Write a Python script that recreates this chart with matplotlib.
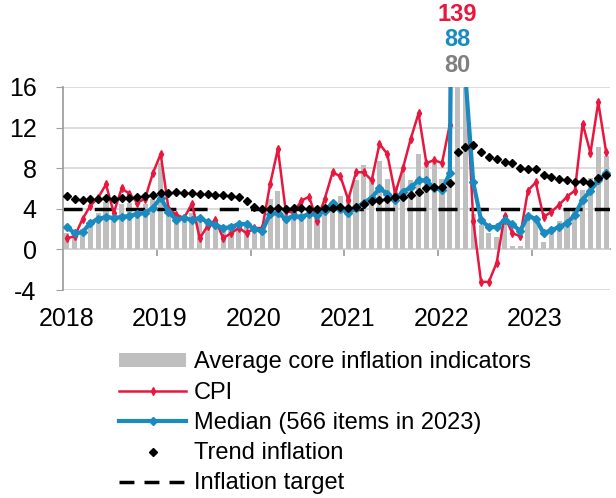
import numpy as np
import matplotlib
matplotlib.use("Agg")
import matplotlib.pyplot as plt
import matplotlib.transforms as mtransforms
from matplotlib.patches import Patch
from matplotlib.lines import Line2D

plt.rcParams['font.family'] = ['Liberation Sans', 'DejaVu Sans']
plt.rcParams['axes.unicode_minus'] = False

# monthly data, Jan 2018 .. Oct 2023 (annualised, %)
years = ['2018', '2019', '2020', '2021', '2022', '2023']

core = [1.6, 1.6, 2.0, 2.9, 3.6, 4.7, 3.3, 4.5, 4.6, 4.0, 4.5, 5.0,
        8.5, 4.2, 3.5, 3.2, 3.6, 3.0, 2.8, 2.6, 2.3, 2.5, 2.4, 2.4,
        2.0, 1.9, 5.0, 5.8, 3.8, 3.7, 3.5, 3.7, 3.3, 3.8, 4.2, 5.3,
        5.3, 6.8, 8.3, 6.9, 8.7, 6.9, 6.2, 7.5, 6.8, 9.4, 8.4, 8.6,
        6.9, 7.0, 80.0, 20.0, 3.5, 2.4, 1.6, 1.2, 3.0, 0.3, 0.3, 3.0,
        3.0, 0.7, 2.2, 2.8, 3.8, 4.0, 5.9, 7.0, 10.1, 9.2]

cpi = [1.1, 1.3, 3.0, 4.3, 5.1, 6.4, 3.6, 6.0, 5.5, 4.6, 5.0, 7.5,
       9.4, 4.0, 3.4, 3.1, 4.5, 1.1, 2.3, 2.9, 1.1, 1.6, 2.1, 1.6,
       2.1, 2.1, 6.4, 9.9, 3.8, 3.6, 4.8, 5.2, 2.8, 5.0, 7.6, 7.2,
       4.9, 7.6, 7.6, 6.8, 10.4, 9.4, 5.5, 8.0, 10.9, 13.4, 8.5, 8.8,
       8.5, 12.3, 139.0, 18.0, 2.8, -3.2, -3.2, -1.3, 3.3, 1.6, 1.3, 5.8,
       6.6, 3.2, 3.7, 4.4, 5.2, 5.8, 12.4, 9.5, 14.5, 9.6]

median = [2.2, 1.6, 1.7, 2.6, 3.0, 3.2, 3.1, 3.2, 3.3, 3.5, 3.6, 4.1,
          5.1, 3.7, 2.9, 3.1, 2.9, 3.1, 2.7, 2.4, 2.1, 2.2, 2.5, 2.5,
          2.0, 1.8, 3.5, 3.6, 3.0, 3.3, 3.2, 3.5, 3.4, 3.8, 4.6, 4.0,
          3.6, 4.1, 4.6, 5.1, 6.0, 5.5, 4.9, 5.7, 6.1, 6.8, 6.8, 6.0,
          5.9, 7.5, 88.0, 17.0, 6.6, 2.9, 2.2, 2.2, 2.9, 2.5, 1.8, 3.3,
          3.0, 1.6, 1.9, 2.2, 2.6, 3.4, 4.9, 5.8, 6.8, 7.5]

trend = [5.3, 5.0, 4.9, 5.0, 5.0, 5.1, 5.0, 5.1, 5.1, 5.2, 5.3, 5.4,
         5.6, 5.6, 5.7, 5.6, 5.6, 5.5, 5.5, 5.4, 5.4, 5.3, 5.2, 4.8,
         4.2, 4.0, 4.0, 4.1, 4.0, 4.1, 4.1, 4.0, 4.0, 4.1, 4.1, 4.2,
         4.1, 4.2, 4.5, 4.8, 4.9, 5.0, 5.2, 5.2, 5.4, 5.7, 6.0, 6.1,
         6.1, 6.5, 9.6, 10.1, 10.3, 9.6, 9.1, 8.9, 8.6, 8.5, 8.0, 7.9,
         7.9, 7.3, 7.1, 6.9, 6.8, 6.6, 6.7, 6.5, 7.0, 7.3]

target = 4.0
# off-scale values for Mar 2022, written above the chart
spike_labels = ['139', '88', '80']

RED = '#E8173F'
BLUE = '#1A8BC0'
GREY = '#BFBFBF'

months = np.arange(len(cpi))

fig = plt.figure(figsize=(6.16, 4.98), dpi=100)
ax = fig.add_axes([63 / 616, 1 - 290 / 498, 547 / 616, 203 / 498])

ax.bar(months, core, width=0.65, color=GREY, zorder=1)
ax.axhline(target, color='black', lw=2.5, dashes=(5.5, 3.5), zorder=2)
ax.plot(months, cpi, color=RED, lw=1.8, marker='d', ms=4, zorder=3)
ax.plot(months, median, color=BLUE, lw=3, marker='D', ms=4.5, zorder=4)
ax.plot(months, trend, ls='none', color='black', marker='D', ms=4.5, zorder=5)

ymin, ymax = -4, 16
ax.set_ylim(ymin, ymax)
ax.set_xlim(-0.5, len(cpi) - 0.5)
ax.set_yticks([-4, 0, 4, 8, 12, 16])
ax.tick_params(axis='y', labelsize=18, length=5, color='#A0A0A0', pad=14)
ax.yaxis.grid(True, color='#D9D9D9', lw=1.3)
ax.set_axisbelow(True)

ax.set_xticks([12 * k - 0.1 for k in range(len(years))], labels=years)
ax.tick_params(axis='x', labelsize=18, length=0, pad=12)

for s in ['top', 'right', 'bottom']:
    ax.spines[s].set_visible(False)
ax.spines['left'].set_color('#A0A0A0')
ax.spines['left'].set_linewidth(1.3)

# zero line with year tick marks
zero = ax.secondary_xaxis((0 - ymin) / (ymax - ymin))
zero.set_xticks([12 * k - 0.5 for k in range(1, len(years))], labels=[])
zero.tick_params(length=5, color='#A0A0A0', width=1.3)
zero.spines['bottom'].set_color('#A0A0A0')
zero.spines['bottom'].set_linewidth(1.3)

trans = mtransforms.blended_transform_factory(ax.transData, ax.transAxes)
spike = int(np.argmax(cpi))
for lab, col, yy in zip(spike_labels, [RED, BLUE, '#808080'], [1.355, 1.232, 1.108]):
    ax.text(spike, yy, lab, transform=trans, color=col, fontsize=17,
            fontweight='bold', ha='center', va='center')

handles = [
    Patch(facecolor=GREY, edgecolor='none'),
    Line2D([], [], color=RED, lw=1.8, marker='d', ms=4),
    Line2D([], [], color=BLUE, lw=3, marker='D', ms=4.5),
    Line2D([], [], ls='none', color='black', marker='D', ms=4.5),
    Line2D([], [], color='black', lw=2.5, dashes=(4.3, 2.9)),
]
labels = ['Average core inflation indicators', 'CPI', 'Median (566 items in 2023)',
          'Trend inflation', 'Inflation target']
fig.legend(handles, labels, loc='upper left', bbox_to_anchor=(110 / 616, 1 - 342 / 498),
           frameon=False, fontsize=17, handlelength=2.8, handleheight=0.55,
           handletextpad=0.35, labelspacing=0.35, borderaxespad=0)

fig.savefig('out.png', dpi=100)
